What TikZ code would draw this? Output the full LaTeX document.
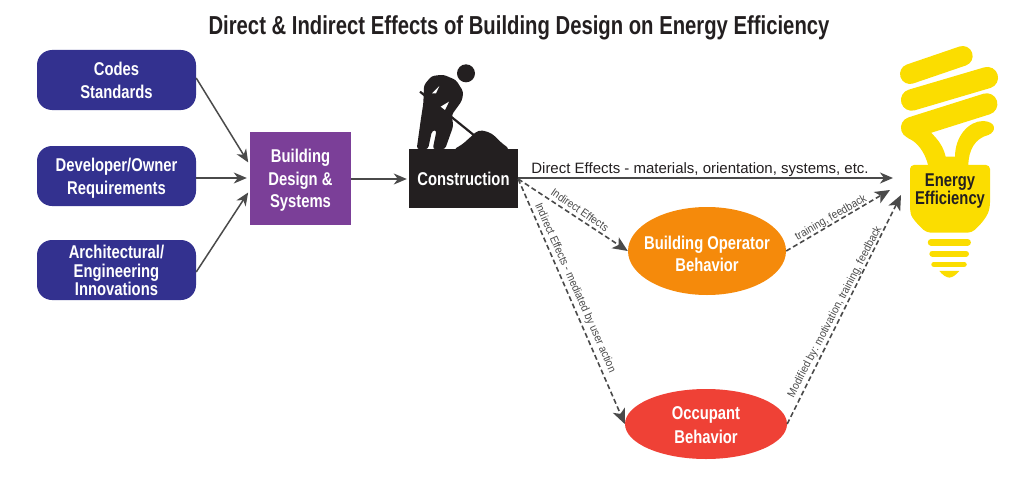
\documentclass[tikz,border=0pt]{standalone}
\usepackage{fontspec}
\setmainfont{Liberation Sans}
\newfontfamily\condb[FakeStretch=0.8]{Liberation Sans Bold}
\newfontfamily\titlef[FakeStretch=0.78]{Liberation Sans Bold}
\newfontfamily\condr[FakeStretch=0.9]{Liberation Sans}
\usetikzlibrary{arrows.meta,shapes.geometric}
\definecolor{navy}{HTML}{33318F}
\definecolor{purp}{HTML}{7B3F98}
\definecolor{ora}{HTML}{F58A0B}
\definecolor{redd}{HTML}{EF4136}
\definecolor{yel}{HTML}{FBDD00}
\definecolor{conn}{HTML}{4A4A4A}
\definecolor{ink}{HTML}{231F20}
\newcommand{\pushdown}[1]{\rule{0pt}{#1pt}}
\tikzset{
  x=1pt,y=-1pt,
  lab/.style={font=\condb\fontsize{18.5}{18}\selectfont,align=center,text=white,inner sep=0pt},
  pill/.style={lab,fill=navy,rounded corners=15pt,minimum width=159pt},
  oval/.style={lab,ellipse,inner xsep=-12pt},
  solidarrow/.style={draw=conn,line width=1.5pt,-{Stealth[length=13pt,width=11pt,inset=4pt]}},
  dasharrow/.style={draw=conn,line width=1.6pt,dash pattern=on 5pt off 3pt,-{Stealth[length=15pt,width=13pt,inset=4pt]}},
  small/.style={font=\condr\fontsize{11.3}{12}\selectfont,text=conn,inner sep=0pt},
  bulbline/.style={draw=yel,line cap=round},
}
\begin{document}
\begin{tikzpicture}
\useasboundingbox (0,0) rectangle (1024,487);
\node[font=\titlef\fontsize{26}{28}\selectfont,text=ink,inner sep=0pt] (title) at (519,28) {Direct \& Indirect Effects of Building Design on Energy Efficiency};
\node[pill,minimum height=60pt] (codes) at (116.5,80) {Codes\\[5pt]Standards};
\node[pill,minimum height=60pt] (dev) at (116.5,176) {\pushdown{17}Developer/Owner\\[5pt]Requirements};
\node[pill,minimum height=60pt] (arch) at (116.5,270) {\pushdown{15}Architectural/\\[0.5pt]Engineering\\[0.5pt]Innovations};
\node[lab,fill=purp,minimum width=101pt,minimum height=93pt] (bds) at (300.5,178.5) {\pushdown{17}Building\\[4.5pt]Design \&\\[4.5pt]Systems};
\node[lab,fill=ink,minimum width=109pt,minimum height=59pt] (con) at (463.5,178.5) {Construction};
\node[oval,fill=ora,minimum width=158pt,minimum height=88pt] (bob) at (707,251) {\pushdown{20}Building Operator\\[4pt]Behavior};
\node[oval,fill=redd,minimum width=162pt,minimum height=70pt] (occ) at (706,424) {\pushdown{15}Occupant\\[6pt]Behavior};
% worker
\begin{scope}[shift={(400,50)},x=0.3333pt,y=-0.3333pt]
\fill[ink] (198,70) circle (9pt);
\draw[ink,line width=2.2pt] (60,125) -- (225,258);
\fill[ink,rounded corners=3pt] (50,298) -- (63,205) -- (70,160) -- (72,105) -- (95,78) -- (130,74) -- (168,90) -- (190,125) -- (186,152) -- (155,195) -- (160,228) -- (135,298) -- (98,298) -- (110,240) -- (96,242) -- (84,298) -- cycle;
\fill[white] (96,130) -- (118,108) -- (108,130) -- cycle;
\fill[white] (122,170) -- (147,155) -- (135,180) -- cycle;
\fill[ink,rounded corners=4pt] (160,298) -- (185,285) -- (215,258) -- (235,240) -- (265,245) -- (285,258) -- (300,275) -- (330,298) -- cycle;
\end{scope}
% bulb
\begin{scope}[shift={(880,40)},x=0.3333pt,y=-0.3333pt]
\draw[bulbline,line width=20pt] (90,102) -- (248,48);
\draw[bulbline,line width=21.5pt] (95,180) -- (322,113);
\draw[bulbline,line width=21.5pt] (95,263) -- (320,192);
\fill[yel] (75,285) -- (85,295) .. controls (110,305) and (135,335) .. (145,378) -- (265,378) .. controls (265,330) and (285,295) .. (325,285) .. controls (350,275) and (350,245) .. (310,243) .. controls (265,243) and (225,290) .. (225,350) -- (197,350) .. controls (190,320) and (175,300) .. (155,280) -- (120,240) -- cycle;
\fill[yel,rounded corners=4pt] (90,375) -- (330,375) -- (330,500) .. controls (320,535) and (295,560) .. (275,578) -- (140,578) .. controls (120,560) and (95,535) .. (90,510) -- cycle;
\draw[bulbline,line width=6.5pt] (153,607) -- (263,607);
\draw[bulbline,line width=6pt] (157,641) -- (258,641);
\draw[bulbline,line width=5.5pt] (162,673) -- (252,673);
\fill[yel] (178,693) -- (238,693) .. controls (228,705) and (218,712) .. (208,713) .. controls (198,712) and (188,705) .. (178,693) -- cycle;
\end{scope}
\node[inner sep=0pt,align=center,text=ink,font=\condb\fontsize{18.5}{18}\selectfont] (bulb) at (950,191) {Energy\\Efficiency};
\coordinate (cin) at (893,178);
\coordinate (din) at (890,190);
\coordinate (ein) at (901,195);
% connectors
\draw[solidarrow,shorten >=3pt] (codes.east |- 0,78) -- (bds.west |- 0,165);
\draw[solidarrow,shorten >=3pt] (dev.east |- 0,178) -- (bds.west |- 0,178);
\draw[solidarrow,shorten >=3pt] (arch.east |- 0,272) -- (bds.west |- 0,190);
\draw[solidarrow,shorten >=2pt] (bds.east |- 0,179) -- (con.west |- 0,179);
\draw[solidarrow] (con.east |- 0,178) -- (cin);
\draw[dasharrow] (con.east |- 0,179) -- (bob.west);
\draw[dasharrow] (con.east |- 0,179) -- (occ.west);
\draw[dasharrow] (bob.east) -- (din);
\draw[dasharrow] (occ.east) -- (ein);
\node[font=\fontsize{15}{16}\selectfont,text=ink,inner sep=0pt] (de) at (700,169.5) {Direct Effects - materials, orientation, systems, etc.};
\node[small,rotate=-34.5] (ie) at (580,210) {Indirect Effects};
\node[small,rotate=-66] (iem) at (575,288) {Indirect Effects - mediated by user action};
\node[small,rotate=30] (tf) at (831,218) {training, feedback};
\node[small,rotate=62.5] (mod) at (835,312) {Modified by: motivation, training, feedback};
\end{tikzpicture}
\end{document}
